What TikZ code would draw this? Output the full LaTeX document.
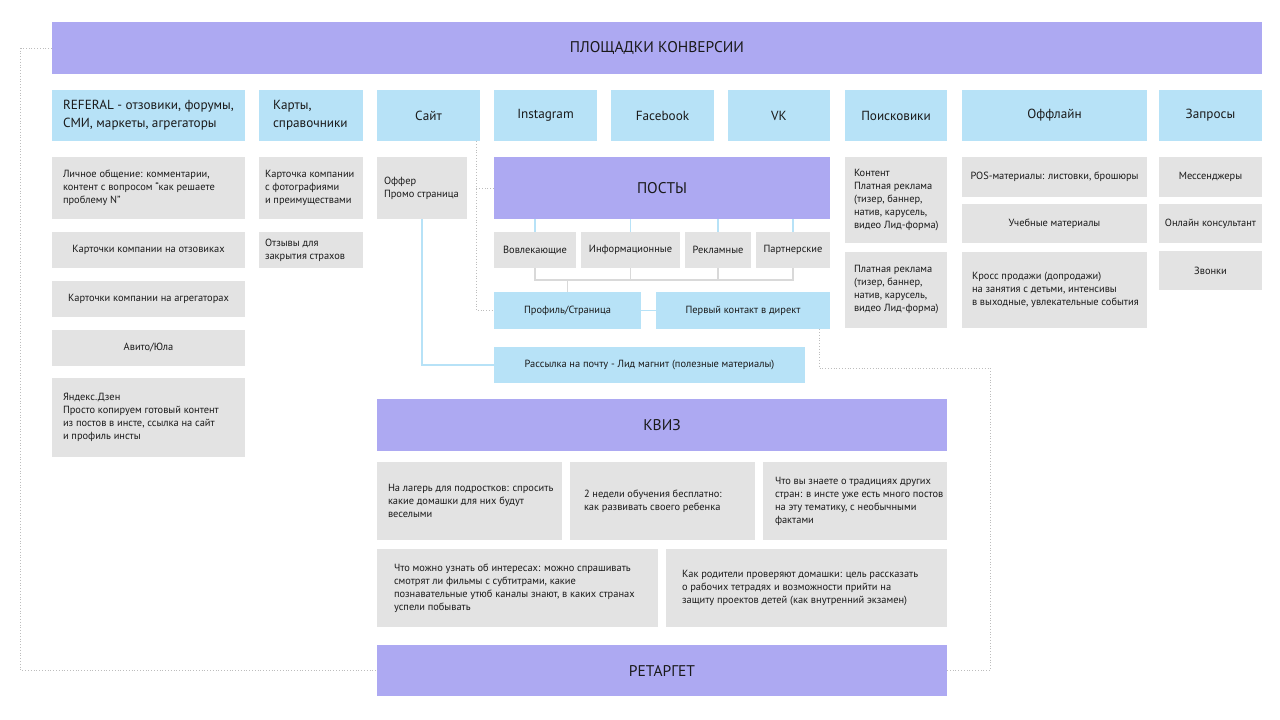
\documentclass[tikz,border=0pt]{standalone}
\usepackage{fontspec}
\setmainfont{PT Sans}
\definecolor{lav}{HTML}{ADA9F2}
\definecolor{lblue}{HTML}{B7E2F7}
\definecolor{lgray}{HTML}{E3E3E3}
\definecolor{ink}{HTML}{1A1A1A}
\definecolor{dotc}{HTML}{BDBDBD}
\definecolor{treec}{HTML}{D9D9D9}
% centred box
\newcommand\bx[7]{%
  \pgfmathsetmacro\bxw{#5-#3}%
  \pgfmathsetmacro\bxh{#6-#4}%
  \pgfmathsetmacro\bxcx{(#3+#5)/2}%
  \pgfmathsetmacro\bxcy{-(#4+#6)/2}%
  \node[#2, inner sep=0pt, minimum width=\bxw pt, minimum height=\bxh pt] (#1) at (\bxcx pt,\bxcy pt) {#7};}
% box with left-aligned text
\newcommand\bxl[8]{%
  \pgfmathsetmacro\bxw{#5-#3}%
  \pgfmathsetmacro\bxh{#6-#4}%
  \pgfmathsetmacro\bxcx{(#3+#5)/2}%
  \pgfmathsetmacro\bxcy{-(#4+#6)/2}%
  \node[#2, inner sep=0pt, minimum width=\bxw pt, minimum height=\bxh pt] (#1) at (\bxcx pt,\bxcy pt) {};
  \node[#2, fill=none, align=left, anchor=west, inner sep=0pt] (#1t) at ([xshift=#7pt]#1.west) {#8};}
\tikzset{
  base/.style={draw=none, rectangle, text=ink, anchor=center},
  bigbar/.style={base, fill=lav, align=center, font=\fontsize{15.5}{18}\selectfont},
  headbox/.style={base, fill=lblue, align=center, font=\fontsize{13.2}{18}\selectfont},
  graybox/.style={base, fill=lgray, align=center, font=\fontsize{10.4}{13}\selectfont},
  bluebox/.style={base, fill=lblue, align=center, font=\fontsize{10.4}{13}\selectfont},
  blueline/.style={draw=lblue, line width=1.5pt},
  treeline/.style={draw=treec, line width=1.2pt},
  dotline/.style={draw=dotc, line width=0.8pt, dotted},
}
\begin{document}
\begin{tikzpicture}[x=1pt,y=1pt]
\useasboundingbox[fill=white] (0,0) rectangle (1280,-720);
% title
\bx{title}{bigbar}{52}{22}{1262}{74}{ПЛОЩАДКИ КОНВЕРСИИ}
% headers
\bxl{ref}{headbox}{52}{90}{245}{141}{11}{REFERAL - отзовики, форумы,\\СМИ, маркеты, агрегаторы}
\bxl{maps}{headbox}{259}{90}{363}{141}{14}{Карты,\\справочники}
\bx{site}{headbox}{377}{90}{480}{141}{Сайт}
\bx{insta}{headbox}{494}{90}{597}{141}{Instagram}
\bx{fb}{headbox}{611}{90}{714}{141}{Facebook}
\bx{vk}{headbox}{728}{90}{830}{141}{VK}
\bx{search}{headbox}{845}{90}{947}{141}{Поисковики}
\bx{offline}{headbox}{962}{90}{1147}{141}{Оффлайн}
\bx{req}{headbox}{1159}{90}{1262}{141}{Запросы}
% referal column
\bxl{r1}{graybox}{52}{157}{245}{219}{11}{Личное общение: комментарии,\\контент с вопросом “как решаете\\проблему N”}
\bx{r2}{graybox}{52}{232}{245}{268}{Карточки компании на отзовиках}
\bx{r3}{graybox}{52}{281}{245}{317}{Карточки компании на агрегаторах}
\bx{r4}{graybox}{52}{330}{245}{366}{Авито/Юла}
\bxl{r5}{graybox}{52}{378}{245}{457}{11}{Яндекс.Дзен\\Просто копируем готовый контент\\из постов в инсте, ссылка на сайт\\и профиль инсты}
% maps column
\bxl{m1}{graybox}{259}{157}{363}{219}{6}{Карточка компании\\с фотографиями\\и преимуществами}
\bxl{m2}{graybox}{259}{232}{363}{268}{6}{Отзывы для\\закрытия страхов}
% site column
\bxl{s1}{graybox}{377}{157}{467}{219}{7}{Оффер\\Промо страница}
% posts
\bx{posts}{bigbar}{494}{157}{830}{219}{ПОСТЫ}
\bx{p1}{graybox}{494}{232}{576}{268}{Вовлекающие}
\bx{p2}{graybox}{581}{232}{680}{268}{Информационные}
\bx{p3}{graybox}{685}{232}{751}{268}{Рекламные}
\bx{p4}{graybox}{756}{232}{830}{268}{Партнерские}
\bx{prof}{bluebox}{494}{292}{641}{329}{Профиль/Страница}
\bx{dm}{bluebox}{656}{292}{830}{329}{Первый контакт в директ}
\bx{mail}{bluebox}{494}{347}{805}{383}{Рассылка на почту - Лид магнит (полезные материалы)}
% search
\bxl{se1}{graybox}{845}{157}{947}{243}{9}{Контент\\Платная реклама\\(тизер, баннер,\\натив, карусель,\\видео Лид-форма)}
\bxl{se2}{graybox}{845}{252}{947}{328}{9}{Платная реклама\\(тизер, баннер,\\натив, карусель,\\видео Лид-форма)}
% offline
\bx{of1}{graybox}{962}{157}{1147}{197}{POS-материалы: листовки, брошюры}
\bx{of2}{graybox}{962}{204}{1147}{243}{Учебные материалы}
\bxl{of3}{graybox}{962}{252}{1147}{328}{10}{Кросс продажи (допродажи)\\на занятия с детьми, интенсивы\\в выходные, увлекательные события}
% requests
\bx{q1}{graybox}{1159}{157}{1262}{197}{Мессенджеры}
\bx{q2}{graybox}{1159}{204}{1262}{243}{Онлайн консультант}
\bx{q3}{graybox}{1159}{251}{1262}{290}{Звонки}
% quiz
\bx{quiz}{bigbar}{377}{399}{947}{451}{КВИЗ}
\bxl{k1}{graybox}{377}{462}{562}{540}{11}{На лагерь для подростков: спросить\\какие домашки для них будут\\веселыми}
\bxl{k2}{graybox}{570}{462}{755}{540}{14}{2 недели обучения бесплатно:\\как развивать своего ребенка}
\bxl{k3}{graybox}{763}{462}{947}{540}{12}{Что вы знаете о традициях других\\стран: в инсте уже есть много постов\\на эту тематику, с необычными\\фактами}
\bxl{k4}{graybox}{377}{549}{658}{627}{17}{Что можно узнать об интересах: можно спрашивать\\смотрят ли фильмы с субтитрами, какие\\познавательные утюб каналы знают, в каких странах\\успели побывать}
\bxl{k5}{graybox}{666}{549}{947}{627}{16}{Как родители проверяют домашки: цель рассказать\\о рабочих тетрадях и возможности прийти на\\защиту проектов детей (как внутренний экзамен)}
\bx{ret}{bigbar}{377}{645}{947}{696}{РЕТАРГЕТ}
% connectors
\coordinate (br) at (0,-280);
\coordinate (rx) at (990,-368);
\draw[blueline] (s1.south) |- (mail.west);
\foreach \p in {p1,p2,p3,p4}{\draw[blueline] (\p.north) -- (\p.north |- posts.south);}
\draw[treeline] (p1.south) -- (p1.south |- br) -- (p4.south |- br) -- (p4.south);
\draw[treeline] (p2.south) -- (p2.south |- br);
\draw[treeline] (p3.south) -- (p3.south |- br);
\draw[treeline] (prof.north) -- (prof.north |- br);
\draw[blueline] (prof.east) -- (dm.west);
\draw[dotline] ([xshift=-4pt]site.south east) |- (prof.west);
\draw[dotline] (posts.west) -- ++(-18,0);
\draw[dotline] ([xshift=-11pt]dm.south east) |- (rx) |- (ret.east);
\draw[dotline] (title.west) -- ++(-31,0) |- (ret.west);
\end{tikzpicture}
\end{document}
